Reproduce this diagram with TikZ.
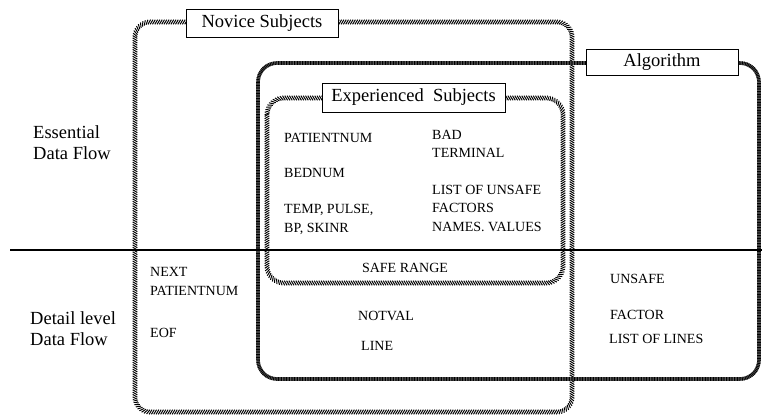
\documentclass[tikz,border=0pt]{standalone}
\usepackage{fontspec}
\setmainfont{Liberation Serif}
\usetikzlibrary{decorations.markings}
\begin{document}
\begin{tikzpicture}[x=1pt,y=-1pt,
  hatchnov/.style={postaction={decorate}, decoration={markings,
    mark=between positions 0 and 1 step 2.3pt with {\draw[line width=1pt,black] (-1.4pt,-2.3pt)--(1.4pt,2.3pt);}}},
  hatchexp/.style={postaction={decorate}, decoration={markings,
    mark=between positions 0 and 1 step 2.3pt with {\draw[line width=1pt,black] (1.4pt,-2.3pt)--(-1.4pt,2.3pt);}}},
  algbase/.style={draw=black!60, line width=3.6pt},
  algtex/.style={draw=black, line width=3.6pt, dash pattern=on 0.8pt off 0.8pt},
  labelbox/.style={draw, fill=white, line width=0.8pt, inner sep=0pt, font=\fontsize{18.5}{20}\selectfont},
  bigtext/.style={font=\fontsize{18.5}{20}\selectfont, anchor=west, inner sep=0pt},
  capstext/.style={font=\fontsize{14}{16}\selectfont, anchor=west, inner sep=0pt}
]
\useasboundingbox[fill=white] (0,0) rectangle (762,415);

% Novice Subjects border
\path[hatchnov, rounded corners=15pt] (135,22) rectangle (572,412);
% Algorithm border
\draw[algbase, rounded corners=19pt] (258,63) rectangle (759,379);
\draw[algtex, rounded corners=19pt] (258,63) rectangle (759,379);
% Experienced Subjects border
\path[hatchexp, rounded corners=17pt] (267,98) rectangle (563,283);

% level separator
\coordinate (sepL) at (10,250);
\coordinate (sepR) at (762,250);
\draw[line width=1.2pt] (sepL) -- (sepR);

% label boxes
\node[labelbox, minimum width=152pt, minimum height=28pt] (novice) at (262,23) {Novice Subjects};
\node[labelbox, minimum width=152pt, minimum height=26pt] (algo) at (662,62) {Algorithm};
\node[labelbox, minimum width=183pt, minimum height=29pt] (exper) at (413.5,97.5) {Experienced\ \ Subjects};

% row labels
\node[bigtext] (ess1) at (33,132) {Essential};
\node[bigtext] (ess2) at (33,153) {Data Flow};
\node[bigtext] (det1) at (30,318) {Detail level};
\node[bigtext] (det2) at (30,339) {Data Flow};

% experienced contents
\node[capstext] (patnum) at (284,138) {PATIENTNUM};
\node[capstext] (bednum) at (284,173) {BEDNUM};
\node[capstext] (temp) at (284,210) {TEMP, PULSE,};
\node[capstext] (bp) at (284,229) {BP, SKINR};
\node[capstext] (bad) at (432,135) {BAD};
\node[capstext] (term) at (432,153) {TERMINAL};
\node[capstext] (list1) at (432,190) {LIST OF UNSAFE};
\node[capstext] (list2) at (432,208) {FACTORS};
\node[capstext] (list3) at (432,227) {NAMES. VALUES};
\node[capstext, anchor=center] (safe) at (405,268) {SAFE RANGE};

% novice detail
\node[capstext] (next1) at (150,272) {NEXT};
\node[capstext] (next2) at (150,291) {PATIENTNUM};
\node[capstext] (eof) at (150,333) {EOF};

% algorithm detail
\node[capstext] (notval) at (358,316) {NOTVAL};
\node[capstext] (line) at (361,346) {LINE};
\node[capstext] (unsafe) at (610,279) {UNSAFE};
\node[capstext] (factor) at (610,315) {FACTOR};
\node[capstext] (lol) at (609,339) {LIST OF LINES};
\end{tikzpicture}
\end{document}
